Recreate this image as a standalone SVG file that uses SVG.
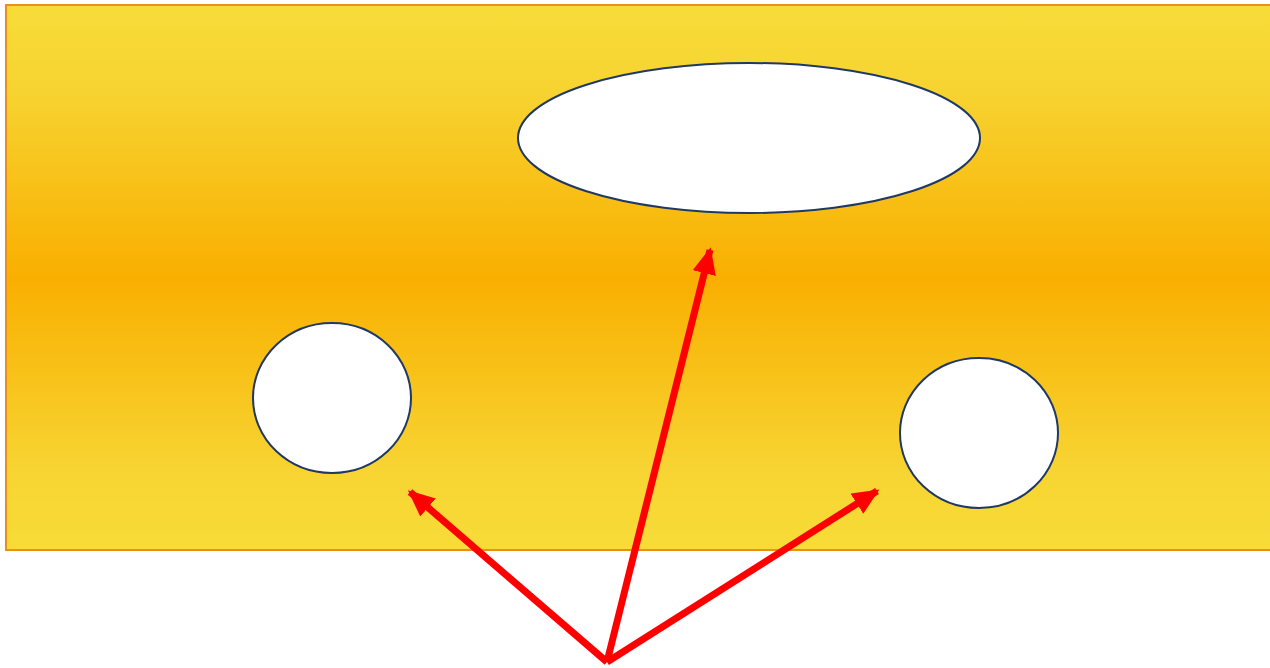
<svg xmlns="http://www.w3.org/2000/svg" width="1270" height="668" viewBox="0 0 1270 668">
<defs>
<linearGradient id="bg" x1="0" y1="0" x2="0" y2="1">
<stop offset="0" stop-color="#F7DC38"/>
<stop offset="0.15" stop-color="#F7D432"/>
<stop offset="0.5" stop-color="#F9AF00"/>
<stop offset="0.85" stop-color="#F7D432"/>
<stop offset="1" stop-color="#F7DC38"/>
</linearGradient>
<marker id="ah" markerWidth="3.8" markerHeight="3.4" refX="3.4" refY="1.7" orient="auto" markerUnits="strokeWidth">
<path d="M0,0 L3.8,1.7 L0,3.4 Z" fill="#FF0000"/>
</marker>
<style>
.node{fill:#FFFFFF;stroke:#1F3864;stroke-width:2}
.conn{stroke:#FF0000;stroke-width:7;fill:none;marker-end:url(#ah)}
</style>
</defs>
<rect id="background" x="6" y="5" width="1270" height="545" fill="url(#bg)" stroke="#E98F1E" stroke-width="2"/>
<g id="node-top"><ellipse class="node" cx="749" cy="138" rx="231" ry="75"/></g>
<g id="node-left"><ellipse class="node" cx="332" cy="398" rx="79" ry="75"/></g>
<g id="node-right"><ellipse class="node" cx="979" cy="433" rx="79" ry="75"/></g>
<g id="connectors">
<line class="conn" x1="607" y1="662" x2="710" y2="250"/>
<line class="conn" x1="607" y1="662" x2="410" y2="492"/>
<line class="conn" x1="607" y1="662" x2="877" y2="491"/>
</g>
</svg>
